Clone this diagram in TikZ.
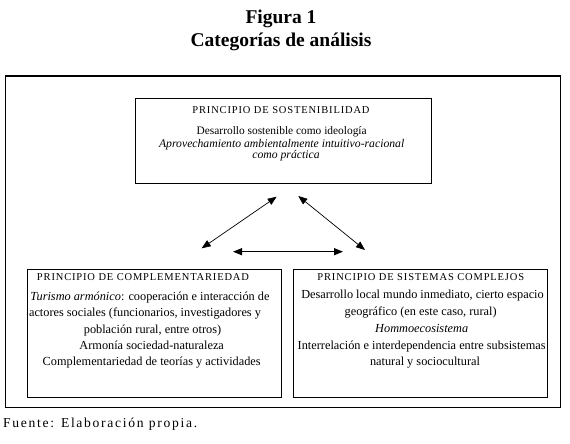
\documentclass[tikz,border=0pt]{standalone}
\usepackage{fontspec}
\setmainfont{Liberation Serif}
\usetikzlibrary{arrows.meta}
\begin{document}
\begin{tikzpicture}[x=1pt,y=-1pt,
  boxst/.style={draw, line width=1.1pt, inner sep=0pt},
  txt/.style={inner sep=0pt, text height=7.5pt, text depth=2.5pt, font=\fontsize{12.3}{12.3}\selectfont},
  itx/.style={txt, font=\fontsize{12.3}{12.3}\selectfont\itshape},
  ttx/.style={txt, font=\fontsize{11.4}{11.4}\selectfont},
  titx/.style={txt, font=\fontsize{11.7}{11.7}\selectfont\itshape},
  head/.style={inner sep=0pt, text height=7.5pt, text depth=2.5pt, font=\fontsize{10.5}{10.5}\selectfont\addfontfeatures{LetterSpace=8}},
  titlest/.style={inner sep=0pt, font=\fontsize{19.5}{19.5}\selectfont\bfseries},
  link/.style={line width=0.7pt, {Triangle[length=9pt,width=7pt]}-{Triangle[length=9pt,width=7pt]}},
  linkh/.style={line width=1.2pt, {Triangle[length=9pt,width=7pt]}-{Triangle[length=9pt,width=7pt]}}
]
\useasboundingbox (0,0) rectangle (570,444);
% titles
\node[titlest, anchor=base] (t1) at (281,24) {Figura 1};
\node[titlest, anchor=base] (t2) at (281,46.5) {Categorías de análisis};
% outer frame
\node[boxst, minimum width=555pt, minimum height=331.7pt] (frame) at (283,241.85) {};
% top box
\node[boxst, minimum width=296.4pt, minimum height=85pt] (sost) at (283.5,140.8) {};
\node[head] (s1) at (281,111) {PRINCIPIO DE SOSTENIBILIDAD};
\node[ttx] (s2) at (281.7,131.7) {Desarrollo sostenible como ideología};
\node[titx] (s3) at (281.7,145) {Aprovechamiento ambientalmente intuitivo-racional};
\node[titx] (s4) at (286,156) {como práctica};
% left box
\node[boxst, minimum width=254pt, minimum height=128pt] (comp) at (154.7,333.3) {};
\node[head] (c1) at (143,278.3) {PRINCIPIO DE COMPLEMENTARIEDAD};
\node[txt] (c2) at (150,298.3) {\textit{Turismo armónico}: cooperación e interacción de};
\node[txt] (c3) at (145,314) {actores sociales (funcionarios, investigadores y};
\node[txt] (c4) at (152.5,330.7) {población rural, entre otros)};
\node[txt] (c5) at (151.7,347.3) {Armonía sociedad-naturaleza};
\node[txt] (c6) at (151.7,363.3) {Complementariedad de teorías y actividades};
% right box
\node[boxst, minimum width=254pt, minimum height=128pt] (sist) at (420.3,333.3) {};
\node[head] (r1) at (420.8,278.3) {PRINCIPIO DE SISTEMAS COMPLEJOS};
\node[txt] (r2) at (422.5,296) {Desarrollo local mundo inmediato, cierto espacio};
\node[txt] (r3) at (420.7,313.3) {geográfico (en este caso, rural)};
\node[itx] (r4) at (421.7,330) {Hommoecosistema};
\node[txt] (r5) at (421.7,347.3) {Interrelación e interdependencia entre subsistemas};
\node[txt] (r6) at (425,363.3) {natural y sociocultural};
% fuente
\node[inner sep=0pt, anchor=base west, font=\fontsize{13.6}{13.6}\selectfont\addfontfeatures{LetterSpace=12.5}] (src) at (3,427) {Fuente: Elaboración propia.};
% arrows
\coordinate (a1) at (201.7,248.3);
\coordinate (a2) at (276.7,196.7);
\coordinate (b1) at (298.3,196);
\coordinate (b2) at (365,250);
\coordinate (h1) at (233,251.7);
\coordinate (h2) at (343,251.7);
\draw[link] (a1) -- (a2);
\draw[link] (b1) -- (b2);
\draw[linkh] (h1) -- (h2);
\end{tikzpicture}
\end{document}
